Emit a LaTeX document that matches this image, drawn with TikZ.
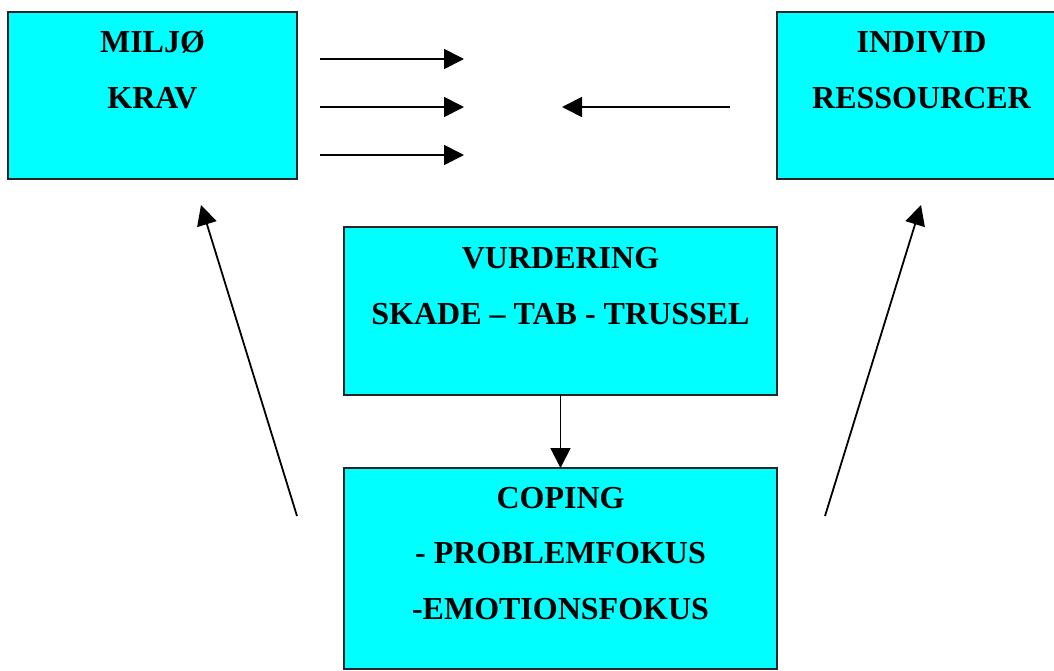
\documentclass[tikz,border=0pt]{standalone}
\usepackage{fontspec}
\setmainfont{Liberation Serif}
\usetikzlibrary{arrows.meta}
\definecolor{boxcyan}{HTML}{00FFFF}
\tikzset{
  box/.style={draw=black!85, line width=1.5pt, fill=boxcyan, rectangle,
              inner sep=0pt, outer sep=0pt},
  lbl/.style={anchor=base, inner sep=0pt, font=\bfseries\fontsize{32}{38}\selectfont},
  arr/.style={line width=1.8pt, -{Triangle[length=20pt,width=20pt]}}
}
\begin{document}
\begin{tikzpicture}[x=1pt,y=-1pt]
\useasboundingbox (0,0) rectangle (1054,670);

% boxes
\node[box, minimum width=289pt, minimum height=167pt] (miljo)   at (152.5,95.5) {};
\node[box, minimum width=289pt, minimum height=167pt] (individ) at (921.5,95.5) {};
\node[box, minimum width=433pt, minimum height=168pt] (vurd)    at (560.5,311) {};
\node[box, minimum width=433pt, minimum height=201pt] (coping)  at (560.5,568.5) {};

% box texts
\node[lbl] (miljoA)   at ([yshift=-40pt]miljo.north) {MILJØ};
\node[lbl] (miljoB)   at ([yshift=-96pt]miljo.north) {KRAV};
\node[lbl] (individA) at ([yshift=-40pt]individ.north) {INDIVID};
\node[lbl] (individB) at ([yshift=-96pt]individ.north) {RESSOURCER};
\node[lbl] (vurdA)    at ([yshift=-41pt]vurd.north) {VURDERING};
\node[lbl] (vurdB)    at ([yshift=-97pt]vurd.north) {SKADE – TAB - TRUSSEL};
\node[lbl] (copingA)  at ([yshift=-40pt]coping.north) {COPING};
\node[lbl] (copingB)  at ([yshift=-95.5pt]coping.north) {- PROBLEMFOKUS};
\node[lbl] (copingC)  at ([yshift=-151pt]coping.north) {-EMOTIONSFOKUS};

% free arrow ends
\coordinate (r1s) at (320,59);  \coordinate (r1e) at (464,59);
\coordinate (r2s) at (320,107); \coordinate (r2e) at (464,107);
\coordinate (r3s) at (320,155); \coordinate (r3e) at (464,155);
\coordinate (ls)  at (730,107); \coordinate (le)  at (562,107);
\coordinate (dls) at (297,516); \coordinate (dle) at (201,205);
\coordinate (drs) at (825,516); \coordinate (dre) at (921,205);

% arrows
\draw[arr] (r1s) -- (r1e);
\draw[arr] (r2s) -- (r2e);
\draw[arr] (r3s) -- (r3e);
\draw[arr] (ls) -- (le);
\draw[arr] (vurd.south) -- (coping.north);
\draw[arr] (dls) -- (dle);
\draw[arr] (drs) -- (dre);
\end{tikzpicture}
\end{document}
